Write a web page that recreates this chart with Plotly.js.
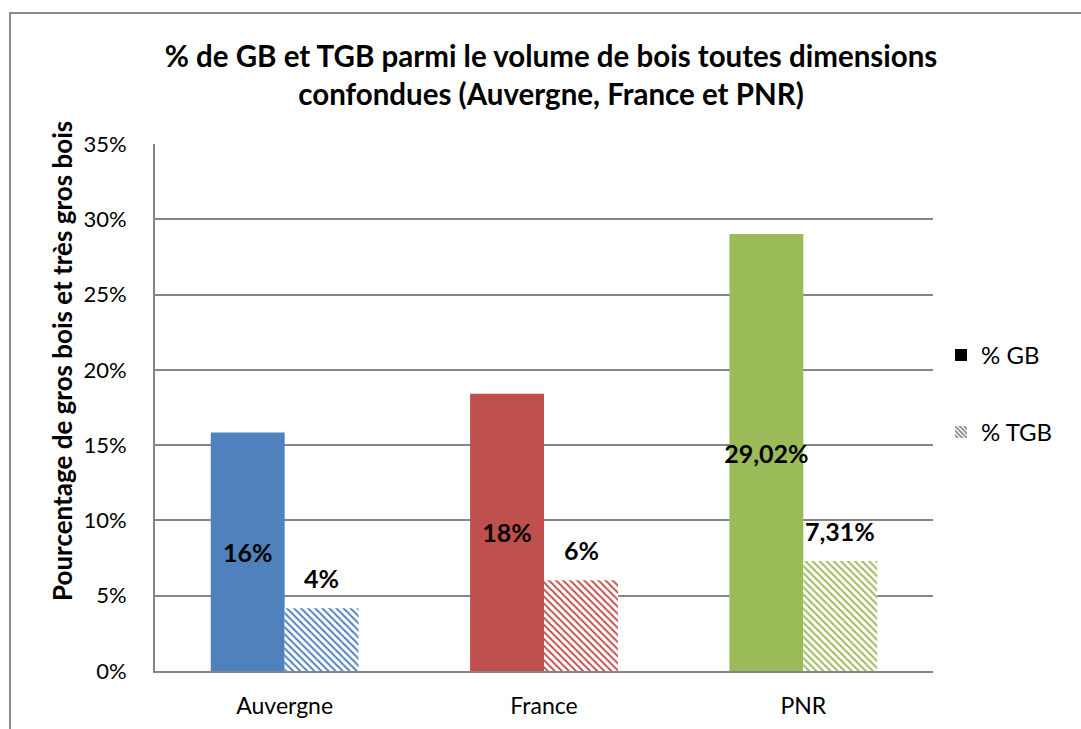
<!DOCTYPE html>
<html>
<head>
<meta charset="utf-8">
<script src="https://cdn.plot.ly/plotly-3.0.1.min.js"></script>
<style>
html,body{margin:0;padding:0;background:#fff;}
#wrap{position:relative;width:1081px;height:729px;overflow:hidden;}
#frame{position:absolute;left:9px;top:12px;width:1100px;height:760px;border-left:2px solid #8a8a8a;border-top:2px solid #8a8a8a;pointer-events:none;z-index:5;}
#chart{position:absolute;left:0;top:0;width:1081px;height:729px;}
</style>
</head>
<body>
<div id="wrap"><div id="chart"></div><div id="frame"></div></div>
<script>
const categories = ["Auvergne", "France", "PNR"];
const gbValues = [15.84, 18.42, 29.02];
const tgbValues = [4.17, 6.03, 7.31];
const gbLabels = ["16%", "18%", "29,02%"];
const tgbLabels = ["4%", "6%", "7,31%"];
const barColors = ["#4F81BD", "#C0504D", "#9BBB59"];
const yTickVals = [0, 5, 10, 15, 20, 25, 30, 35];
const yTickText = ["0%", "5%", "10%", "15%", "20%", "25%", "30%", "35%"];
const yAxisTitle = "Pourcentage de gros bois et très gros bois";

const FONT = "Lato, 'Open Sans', sans-serif";

const traces = [
  {
    type: "bar", x: categories, y: gbValues, name: "% GB", offsetgroup: "a",
    showlegend: false,
    marker: {color: barColors, line: {width: 0}},
    text: gbLabels, textposition: "inside", insidetextanchor: "middle",
    textangle: 0, constraintext: "none", cliponaxis: false,
    textfont: {family: FONT, size: 25, color: "#000", weight: "bold"},
    hoverinfo: "skip"
  },
  {
    type: "bar", x: categories, y: tgbValues, name: "% TGB", offsetgroup: "b",
    showlegend: false,
    marker: {color: "#ffffff", line: {width: 0},
      pattern: {shape: "\\", fgcolor: barColors, bgcolor: "#ffffff", size: 5, solidity: 0.4}},
    hoverinfo: "skip"
  },
  {
    type: "bar", x: [null], y: [null], name: "% GB", offsetgroup: "a", legendgroup: "g1",
    marker: {color: "#000000"}, hoverinfo: "skip"
  },
  {
    type: "bar", x: [null], y: [null], name: "% TGB", offsetgroup: "b", legendgroup: "g2",
    marker: {color: "#ffffff", pattern: {shape: "\\", fgcolor: "#7f7f7f", bgcolor: "#ffffff", size: 4, solidity: 0.5}},
    hoverinfo: "skip"
  }
];

const annotations = categories.map((c, i) => ({
  x: c, y: tgbValues[i], xref: "x", yref: "y",
  text: tgbLabels[i], showarrow: false,
  xanchor: "center", yanchor: "bottom", xshift: 37, yshift: 13,
  font: {family: FONT, size: 25, color: "#000", weight: "bold"}
}));
annotations.push({
  text: yAxisTitle, showarrow: false, textangle: -90,
  xref: "paper", yref: "paper", x: (62 - 155) / 778, y: (671 - 361) / 527,
  xanchor: "center", yanchor: "middle",
  font: {family: FONT, size: 26, color: "#000", weight: "bold"}
});

const layout = {
  width: 1081, height: 729,
  margin: {l: 155, r: 148, t: 144, b: 58},
  paper_bgcolor: "#ffffff", plot_bgcolor: "#ffffff",
  font: {family: FONT, color: "#000"},
  barmode: "group", bargap: 0.43, bargroupgap: 0,
  title: {
    text: "% de GB et TGB parmi le volume de bois toutes dimensions<br>confondues (Auvergne, France et PNR)",
    font: {family: FONT, size: 29.5, color: "#000", weight: "bold"},
    x: 551/1081, xref: "container", xanchor: "center",
    y: 1 - 67/729, yref: "container", yanchor: "middle"
  },
  xaxis: {
    type: "category", showgrid: false, showline: true, linecolor: "#868686", linewidth: 2,
    ticks: "", tickfont: {family: FONT, size: 23, color: "#000"}, ticklabelstandoff: 13,
    fixedrange: true
  },
  yaxis: {
    range: [0, 35], tickvals: yTickVals, ticktext: yTickText,
    showgrid: true, gridcolor: "#868686", gridwidth: 2,
    showline: true, linecolor: "#868686", linewidth: 2,
    zeroline: false, ticks: "", ticklabelstandoff: 22,
    tickfont: {family: FONT, size: 22, color: "#000"},
    fixedrange: true
  },
  annotations: annotations,
  legend: {
    x: 1.0103, xanchor: "left", y: 0.526, yanchor: "middle",
    font: {family: FONT, size: 24, color: "#000"},
    tracegroupgap: 43, itemwidth: 30, bgcolor: "rgba(0,0,0,0)",
    traceorder: "grouped"
  },
  showlegend: true
};

Plotly.newPlot("chart", traces, layout, {displayModeBar: false, staticPlot: true});
</script>
</body>
</html>
